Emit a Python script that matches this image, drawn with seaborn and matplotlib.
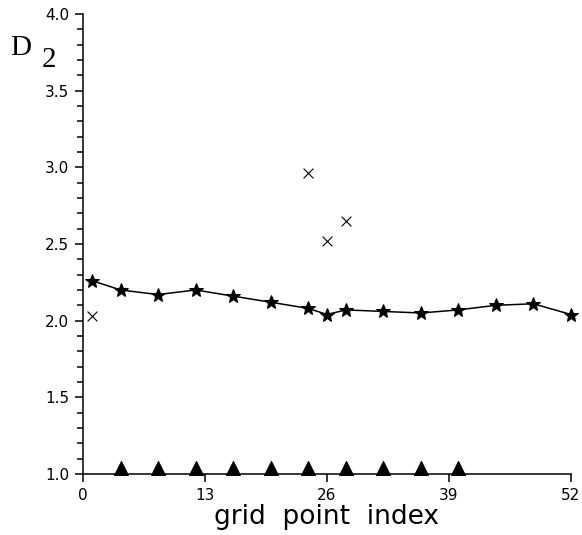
import numpy as np
import pandas as pd
import matplotlib
matplotlib.use("Agg")
import matplotlib.pyplot as plt
import seaborn as sns
from matplotlib.ticker import MultipleLocator

# D2 estimates along the grid
star_x = [1, 4, 8, 12, 16, 20, 24, 26, 28, 32, 36, 40, 44, 48, 52]
star_y = [2.26, 2.20, 2.17, 2.20, 2.16, 2.12, 2.08, 2.04, 2.07, 2.06, 2.05, 2.07, 2.10, 2.11, 2.04]

cross_x = [1, 24, 26, 28]
cross_y = [2.03, 2.96, 2.52, 2.65]

tri_x = [4, 8, 12, 16, 20, 24, 28, 32, 36, 40]
tri_y = [1.04, 1.04, 1.04, 1.04, 1.04, 1.04, 1.04, 1.04, 1.04, 1.04]

x_ticks = [0, 13, 26, 39, 52]

sns.set_style("ticks")
plt.rcParams['font.family'] = ['DejaVu Sans']
plt.rcParams['text.color'] = 'black'
plt.rcParams['axes.labelcolor'] = 'black'

fig = plt.figure(figsize=(5.82, 5.35), dpi=100)
ax = fig.add_axes([0.1426, 0.114, 0.8384, 0.86])

stars = pd.DataFrame({'x': star_x, 'y': star_y})
sns.lineplot(x='x', y='y', data=stars, ax=ax, color='black', linewidth=1.1,
             marker='*', markersize=10.5, markeredgecolor='black', clip_on=False)

sns.scatterplot(x=cross_x, y=cross_y, ax=ax, marker='x', s=50, color='black',
                linewidth=0.8, clip_on=False)
sns.scatterplot(x=tri_x, y=tri_y, ax=ax, marker='^', s=100, color='black',
                edgecolor='black', clip_on=False)

ax.set_xlim(0, 52)
ax.set_ylim(1.0, 4.0)
ax.set_xticks(x_ticks)
ax.yaxis.set_major_locator(MultipleLocator(0.5))
ax.yaxis.set_minor_locator(MultipleLocator(0.1))
ax.yaxis.set_major_formatter(matplotlib.ticker.FormatStrFormatter('%.1f'))

sns.despine(ax=ax)
for s in ['left', 'bottom']:
    ax.spines[s].set_linewidth(1.1)
    ax.spines[s].set_color('black')
ax.tick_params(axis='both', which='major', length=6, width=1.1, labelsize=11,
               colors='black', pad=4)
ax.tick_params(axis='y', which='minor', length=4, width=1.1, colors='black')

ax.set_xlabel('grid  point  index', fontsize=19, labelpad=1, color='black')
ax.set_ylabel('')

fig.text(0.018, 0.897, 'D', fontsize=21, family='Liberation Serif', color='black')
fig.text(0.071, 0.875, '2', fontsize=21, family='Liberation Serif', color='black')

fig.savefig('out.png', dpi=100, facecolor='white')
